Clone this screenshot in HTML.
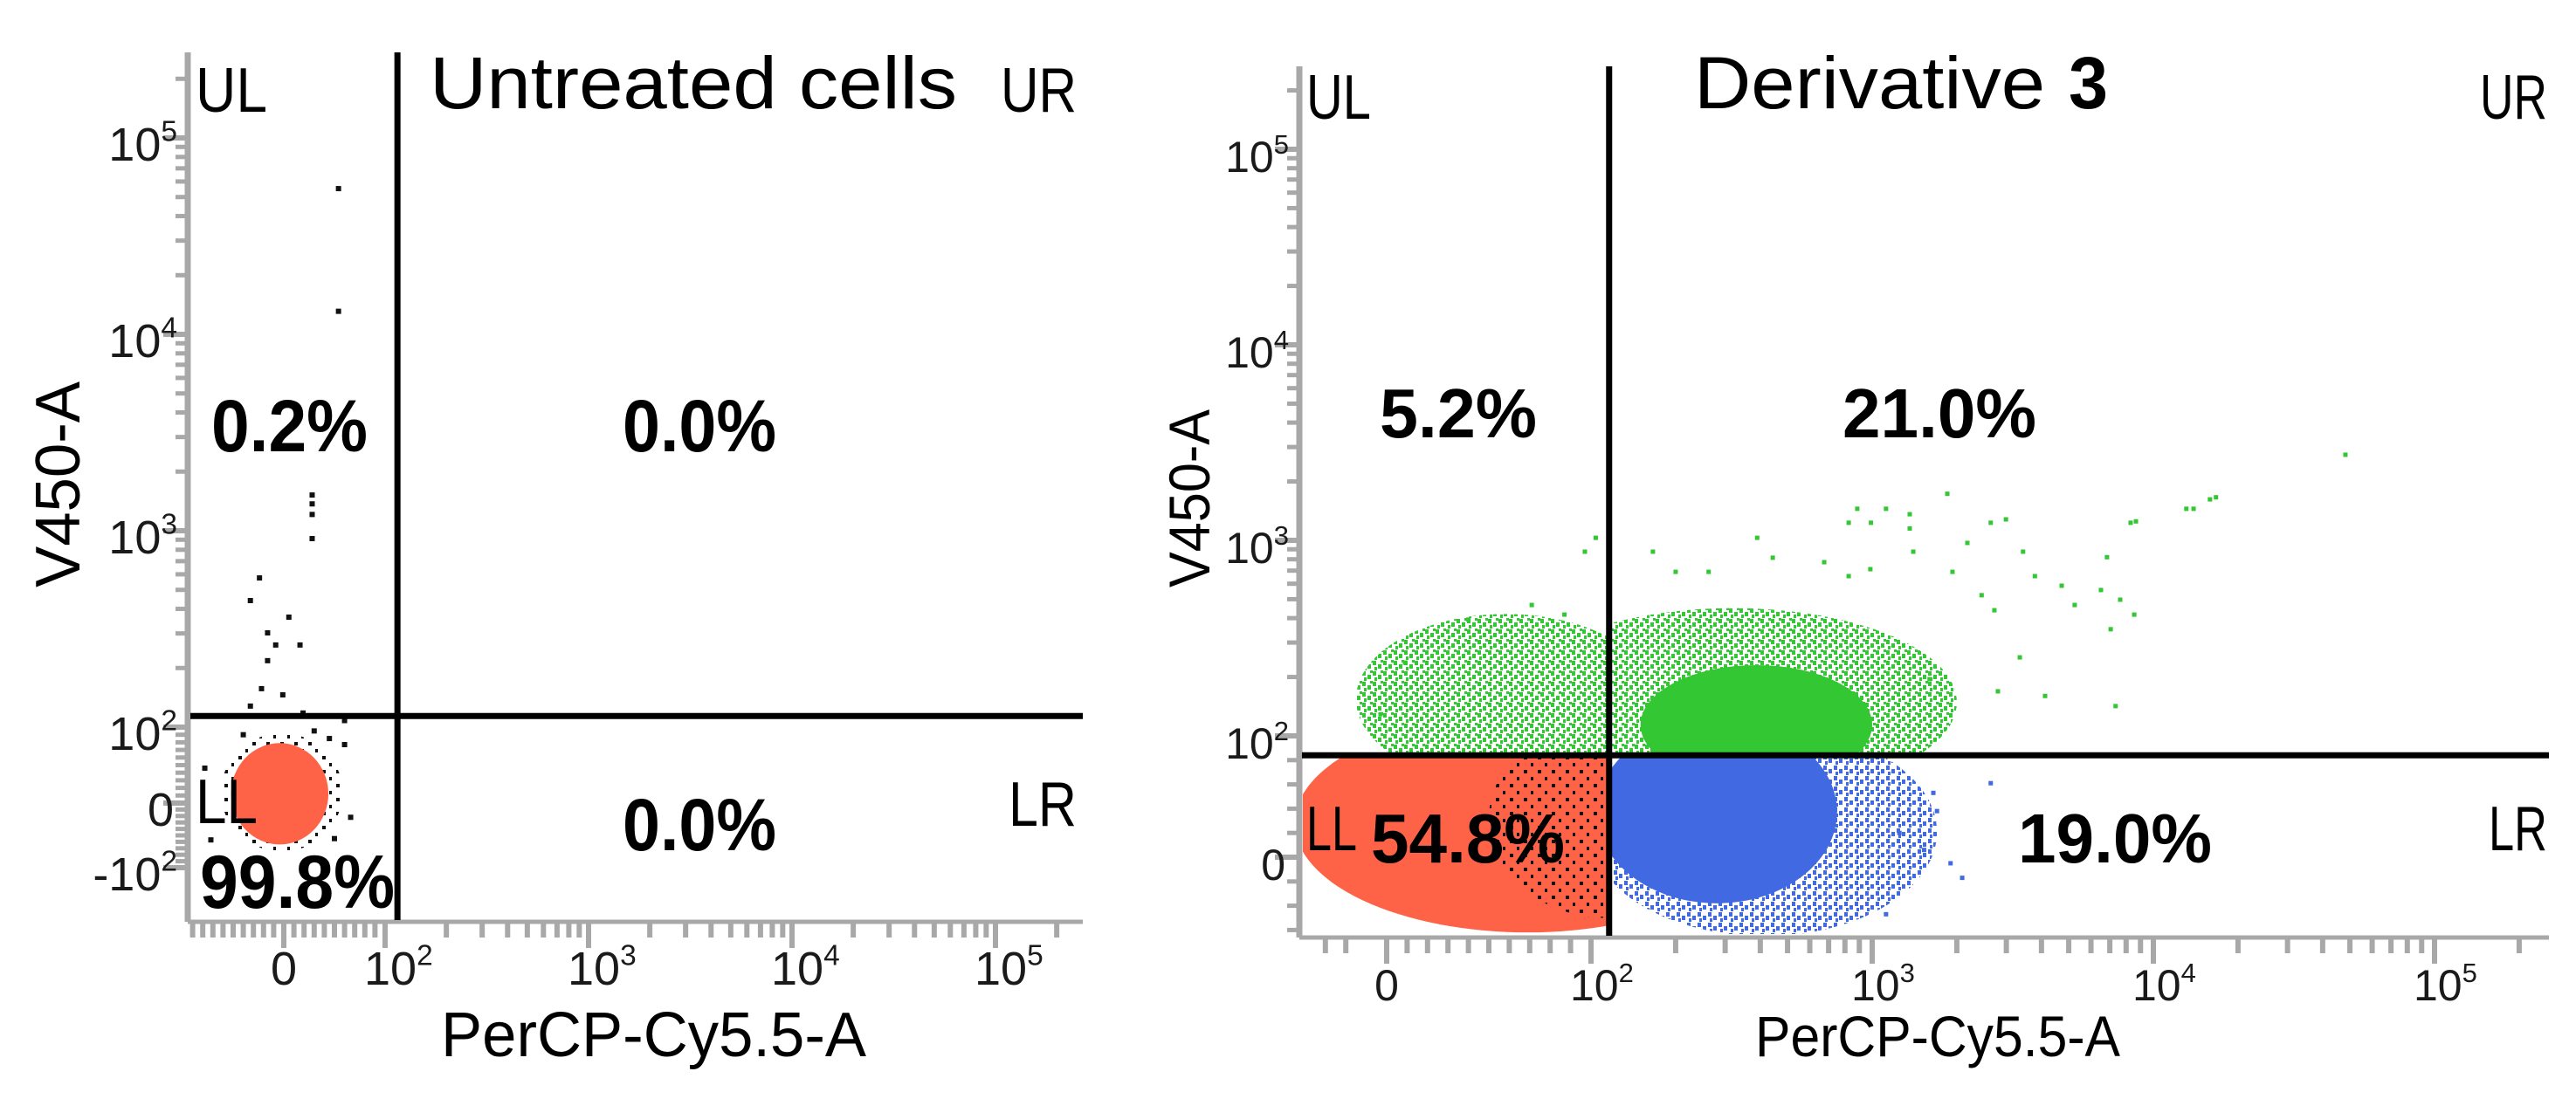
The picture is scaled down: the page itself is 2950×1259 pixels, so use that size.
<!DOCTYPE html>
<html><head><meta charset="utf-8"><style>
html,body{margin:0;padding:0;background:#fff;}
svg{display:block;}
text{font-family:"Liberation Sans",sans-serif;}
</style></head><body>
<svg id="fig" xmlns="http://www.w3.org/2000/svg" width="2950" height="1259" viewBox="0 0 2950 1259">
<rect x="0" y="0" width="2950" height="1259" fill="#fff"/>
<defs id="defs">
<pattern id="pat-black" width="16" height="16" patternUnits="userSpaceOnUse"><rect x="1" y="2" width="4" height="4" fill="#111"/><rect x="9" y="10" width="3" height="4" fill="#111"/></pattern>
<pattern id="pat-green" width="12" height="12" patternUnits="userSpaceOnUse"><rect x="0" y="1" width="4" height="5" fill="#33c733"/><rect x="6" y="5" width="4" height="5" fill="#33c733"/><rect x="2" y="8" width="3" height="4" fill="#33c733"/><rect x="9" y="0" width="3" height="3" fill="#33c733"/></pattern>
<pattern id="pat-blue" width="12" height="12" patternUnits="userSpaceOnUse"><rect x="0" y="1" width="4" height="5" fill="#4169e1"/><rect x="6" y="5" width="4" height="5" fill="#4169e1"/><rect x="2" y="8" width="3" height="4" fill="#4169e1"/></pattern>
</defs>

<g id="left-panel">
<g id="left-marks"></g>
<g id="left-axes"></g>
<text x="492" y="124" font-size="84" textLength="604" lengthAdjust="spacingAndGlyphs">Untreated cells</text>
<text x="224" y="128" font-size="72" textLength="82" lengthAdjust="spacingAndGlyphs">UL</text>
<text x="1146" y="128" font-size="72" textLength="87" lengthAdjust="spacingAndGlyphs">UR</text>
<text x="242" y="517" font-size="84" font-weight="bold" textLength="179" lengthAdjust="spacingAndGlyphs">0.2%</text>
<text x="713" y="517" font-size="84" font-weight="bold" textLength="176" lengthAdjust="spacingAndGlyphs">0.0%</text>
<text x="713" y="974" font-size="84" font-weight="bold" textLength="176" lengthAdjust="spacingAndGlyphs">0.0%</text>
<text x="1155" y="946" font-size="72" textLength="78" lengthAdjust="spacingAndGlyphs">LR</text>
<text x="224" y="943" font-size="72" textLength="71" lengthAdjust="spacingAndGlyphs">LL</text>
<text x="229" y="1040" font-size="86" font-weight="bold" textLength="223" lengthAdjust="spacingAndGlyphs">99.8%</text>
<text x="91" y="555" font-size="72" text-anchor="middle" transform="rotate(-90 91 555)" textLength="236" lengthAdjust="spacingAndGlyphs">V450-A</text>
<text x="505" y="1210" font-size="72" textLength="487" lengthAdjust="spacingAndGlyphs">PerCP-Cy5.5-A</text>
</g>

<g id="right-panel">
<g id="right-marks"></g>
<g id="right-axes"></g>
<text x="1940" y="124" font-size="84" textLength="402" lengthAdjust="spacingAndGlyphs">Derivative</text>
<text x="2369" y="124" font-size="84" font-weight="bold" textLength="45" lengthAdjust="spacingAndGlyphs">3</text>
<text x="1496" y="136" font-size="72" textLength="74" lengthAdjust="spacingAndGlyphs">UL</text>
<text x="2840" y="136" font-size="72" textLength="77" lengthAdjust="spacingAndGlyphs">UR</text>
<text x="1580" y="501" font-size="80" font-weight="bold" textLength="180" lengthAdjust="spacingAndGlyphs">5.2%</text>
<text x="2110" y="501" font-size="80" font-weight="bold" textLength="222" lengthAdjust="spacingAndGlyphs">21.0%</text>
<text x="1496" y="974" font-size="72" textLength="58" lengthAdjust="spacingAndGlyphs">LL</text>
<text x="1570" y="988" font-size="80" font-weight="bold" textLength="222" lengthAdjust="spacingAndGlyphs">54.8%</text>
<text x="2311" y="988" font-size="80" font-weight="bold" textLength="222" lengthAdjust="spacingAndGlyphs">19.0%</text>
<text x="2850" y="974" font-size="72" textLength="67" lengthAdjust="spacingAndGlyphs">LR</text>
<text x="1385" y="571" font-size="66" text-anchor="middle" transform="rotate(-90 1385 571)" textLength="204" lengthAdjust="spacingAndGlyphs">V450-A</text>
<text x="2010" y="1210" font-size="66" textLength="418" lengthAdjust="spacingAndGlyphs">PerCP-Cy5.5-A</text>
</g>
</svg>
<script>
// ---------- data ----------
const leftGateX = 115;
const leftGateY = 114;
const rightGateX = 116;
const rightGateY = 84;

// outlier events, untreated cells (PerCP value, V450 value)
const leftEventX = [54, 54, 28, 28, 28, 28, -24, -33, 5, -16, -8, 16, -16, -22, -1, -33, 19, 60, 60, 66, -78, -72, 30, 45, -40, 50];
const leftEventY = [55200, 13100, 1520, 1370, 1210, 912, 575, 441, 363, 302, 262, 262, 218, 157, 146, 128, 118, 108, 77, -22, 46, -57, 95, 85, 90, -55];

// sparse green events, derivative 3
const rightGreenX = [1850, 15900, 13100, 885, 1120, 1360, 2990, 2640, 8300, 825, 990, 1360, 390, 2180, 104, 97, 166, 1400, 3440, 6840, 443, 675, 985, 262, 200, 1930, 825, 3790, 4720, 6510, 7620, 5250, 2450, 8550, 7050, 2720, 3350, 2800, 4120, 7340, 1600, 71, 87, 40, 9, -3, 48200, 16700, 13900, 8670];
const rightGreenY = [1730, 1620, 1450, 1450, 1450, 1360, 1280, 1230, 1230, 1230, 1230, 1150, 1030, 970, 1030, 875, 875, 875, 875, 820, 815, 773, 712, 690, 690, 690, 656, 656, 586, 557, 497, 467, 524, 417, 351, 439, 252, 169, 160, 142, 195, 467, 417, 393, 237, 129, 2740, 1660, 1450, 1250];
// sparse blue events, derivative 3
const rightBlueX = [2640, 1530, 2090, 1120, 1650, 1700, 1250, 1900];
const rightBlueY = [61, 6, -17, -47, 53, 38, 20, -5];

// dense population regions (data-space extents)
const clusterPanel    = ['L', 'L', 'R', 'R', 'R', 'R', 'R', 'R', 'R', 'R'];
const clusterQuadrant = ['all', 'all', 'LL', 'LL', 'LR', 'LR', 'UR', 'UR', 'UL', 'UL'];
const clusterKind     = ['black', 'red', 'red', 'black', 'blue-sparse', 'blue', 'green-sparse', 'green', 'green-sparse', 'green-sparse'];
const clusterXLo = [-62, -52, -45, 50, 100, 105, 60, 150, -15, 20];
const clusterXHi = [58, 44, 400, 300, 1700, 750, 2000, 1000, 170, 150];
const clusterYLo = [-75, -64, -62, -50, -65, -38, 50, 60, 60, 70];
const clusterYHi = [92, 79, 130, 120, 110, 120, 450, 230, 420, 260];

// axis ticks
const leftXMajor = [0, 100, 1000, 10000, 100000];
const leftYMajor = [-100, 0, 100, 1000, 10000, 100000];
const rightXMajor = [0, 100, 1000, 10000, 100000];
const rightYMajor = [0, 100, 1000, 10000, 100000];
const leftXTickBase = ['0', '10', '10', '10', '10'];
const leftXTickExp = ['', '2', '3', '4', '5'];
const leftYTickBase = ['-10', '0', '10', '10', '10', '10'];
const leftYTickExp = ['2', '', '2', '3', '4', '5'];
const rightXTickBase = ['0', '10', '10', '10', '10'];
const rightXTickExp = ['', '2', '3', '4', '5'];
const rightYTickBase = ['0', '10', '10', '10', '10'];
const rightYTickExp = ['', '2', '3', '4', '5'];
const leftLinMinor = [-90, -80, -70, -60, -50, -40, -30, -20, -10, 10, 20, 30, 40, 50, 60, 70, 80, 90];
const rightXLinMinor = [-30, -20, 10, 20, 30, 40, 50, 60, 70, 80, 90];
const rightYLinMinor = [-60, -40, -20, 20, 40, 60, 80];

// ---------- scales ----------
const NS = 'http://www.w3.org/2000/svg';
function makeScale(p0, p100, dec, negSlope) {
  return function (v) {
    if (v >= 100) return p100 + (Math.log10(v) - 2) * dec;
    if (v >= 0) return p0 + (p100 - p0) * v / 100;
    return p0 + (negSlope !== undefined ? negSlope : (p100 - p0) / 100) * v;
  };
}
const P = {
  L: { sx: makeScale(325, 441, 233), sy: makeScale(920, 833, -225, -0.74),
       left: 215, right: 1240, top: 60, bottom: 1056, gx: leftGateX, gy: leftGateY,
       marks: 'left-marks', axes: 'left-axes', id: 'left' },
  R: { sx: makeScale(1588, 1822, 322), sy: makeScale(982, 843, -224),
       left: 1488, right: 2919, top: 76, bottom: 1074, gx: rightGateX, gy: rightGateY,
       marks: 'right-marks', axes: 'right-axes', id: 'right' }
};
const defs = document.getElementById('defs');
function el(tag, parent) { const e = document.createElementNS(NS, tag); parent.appendChild(e); return e; }

// clip paths per quadrant
['L', 'R'].forEach(function (k) {
  const p = P[k];
  const gxp = p.sx(p.gx), gyp = p.sy(p.gy);
  const q = { all: [p.left + 4, p.top, p.right - p.left, p.bottom - p.top - 4],
    UL: [p.left + 4, p.top, gxp - p.left - 4, gyp - p.top],
    UR: [gxp, p.top, p.right - gxp, gyp - p.top],
    LL: [p.left + 4, gyp, gxp - p.left - 4, p.bottom - gyp - 4],
    LR: [gxp, gyp, p.right - gxp, p.bottom - gyp - 4] };
  Object.keys(q).forEach(function (name) {
    const cp = el('clipPath', defs);
    cp.setAttribute('id', 'clip-' + k + '-' + name);
    const r = el('rect', cp);
    r.setAttribute('x', q[name][0]); r.setAttribute('y', q[name][1]);
    r.setAttribute('width', q[name][2]); r.setAttribute('height', q[name][3]);
  });
});

const kindFill = { 'black': 'url(#pat-black)', 'red': '#ff6347', 'blue': '#4169e1',
  'blue-sparse': 'url(#pat-blue)', 'green': '#33c733', 'green-sparse': 'url(#pat-green)' };

// clusters
for (let i = 0; i < clusterPanel.length; i++) {
  const p = P[clusterPanel[i]];
  const g = document.getElementById(p.marks);
  const x1 = p.sx(clusterXLo[i]), x2 = p.sx(clusterXHi[i]);
  const y1 = p.sy(clusterYLo[i]), y2 = p.sy(clusterYHi[i]);
  const e = el('ellipse', g);
  
  
  e.setAttribute('cx', (x1 + x2) / 2); e.setAttribute('cy', (y1 + y2) / 2);
  e.setAttribute('rx', Math.abs(x2 - x1) / 2); e.setAttribute('ry', Math.abs(y2 - y1) / 2);
  e.setAttribute('fill', kindFill[clusterKind[i]]);
  e.setAttribute('clip-path', 'url(#clip-' + clusterPanel[i] + '-' + clusterQuadrant[i] + ')');
}

function drawPoints(panelKey, xs, ys, color, name, size) {
  const p = P[panelKey];
  const g = document.getElementById(p.marks);
  for (let i = 0; i < xs.length; i++) {
    const r = el('rect', g);
    
    
    r.setAttribute('x', p.sx(xs[i]) - size / 2);
    r.setAttribute('y', p.sy(ys[i]) - size / 2);
    r.setAttribute('width', size); r.setAttribute('height', size);
    r.setAttribute('fill', color);
  }
}
drawPoints('L', leftEventX, leftEventY, '#111', 'outlier-event', 6);
drawPoints('R', rightGreenX, rightGreenY, '#33c733', 'green-event', 5);
drawPoints('R', rightBlueX, rightBlueY, '#4169e1', 'blue-event', 5);

// axes, ticks, gates
const AX = '#a8a8a8';
function line(g, x1, y1, x2, y2, color, w, name) {
  const l = el('line', g);
  
  
  l.setAttribute('x1', x1); l.setAttribute('y1', y1); l.setAttribute('x2', x2); l.setAttribute('y2', y2);
  l.setAttribute('stroke', color); l.setAttribute('stroke-width', w);
}
function label(g, x, y, base, exp, anchor, size, name) {
  const t = el('text', g);
  
  
  t.setAttribute('x', x); t.setAttribute('y', y);
  t.setAttribute('font-size', size); t.setAttribute('fill', '#1a1a1a');
  t.setAttribute('text-anchor', anchor);
  t.textContent = base;
  if (exp) {
    const s = el('tspan', t);
    s.setAttribute('font-size', size * 0.62);
    s.setAttribute('dy', -size * 0.42);
    s.textContent = exp;
  }
}
function logMinors(maxExp) {
  const out = [];
  for (let e = 2; e <= maxExp; e++) for (let m = 2; m <= 9; m++) out.push(m * Math.pow(10, e));
  return out;
}
function buildAxes(k, xMajor, xBase, xExp, yMajor, yBase, yExp, xLin, yLin, tickFont) {
  const p = P[k];
  const g = document.getElementById(p.axes);
  xLin.concat(logMinors(5)).forEach(function (v) {
    const x = p.sx(v);
    if (x > p.left + 4 && x < p.right) line(g, x, p.bottom, x, p.bottom + 18, AX, 6, 'x-minor-tick');
  });
  yLin.concat(logMinors(5)).forEach(function (v) {
    const y = p.sy(v);
    if (y > p.top && y < p.bottom - 4) line(g, p.left, y, p.left - 14, y, AX, 5, 'y-minor-tick');
  });
  xMajor.forEach(function (v, i) {
    const x = p.sx(v);
    line(g, x, p.bottom, x, p.bottom + 30, AX, 6, 'x-major-tick');
    if (xExp[i]) label(g, x - 24, p.bottom + 72, xBase[i], xExp[i], 'start', tickFont, 'x-tick-label');
    else label(g, x, p.bottom + 72, xBase[i], '', 'middle', tickFont, 'x-tick-label');
  });
  yMajor.forEach(function (v, i) {
    const y = p.sy(v);
    line(g, p.left, y, p.left - 28, y, AX, 6, 'y-major-tick');
    label(g, p.left - (yExp[i] ? 12 : 16), y + 26, yBase[i], yExp[i], 'end', tickFont, 'y-tick-label');
  });
  line(g, p.left, p.top, p.left, p.bottom, AX, 7, 'y-axis-line');
  line(g, p.left, p.bottom, p.right, p.bottom, AX, 5, 'x-axis-line');
  const gxp = p.sx(p.gx), gyp = p.sy(p.gy);
  line(g, gxp, p.top, gxp, p.bottom - 2, '#000', 7, 'quadrant-gate-vertical');
  line(g, p.left + 3, gyp, p.right, gyp, '#000', 7, 'quadrant-gate-horizontal');
}
buildAxes('L', leftXMajor, leftXTickBase, leftXTickExp, leftYMajor, leftYTickBase, leftYTickExp, leftLinMinor, leftLinMinor, 54);
buildAxes('R', rightXMajor, rightXTickBase, rightXTickExp, rightYMajor, rightYTickBase, rightYTickExp, rightXLinMinor, rightYLinMinor, 50);
</script>
</body></html>
